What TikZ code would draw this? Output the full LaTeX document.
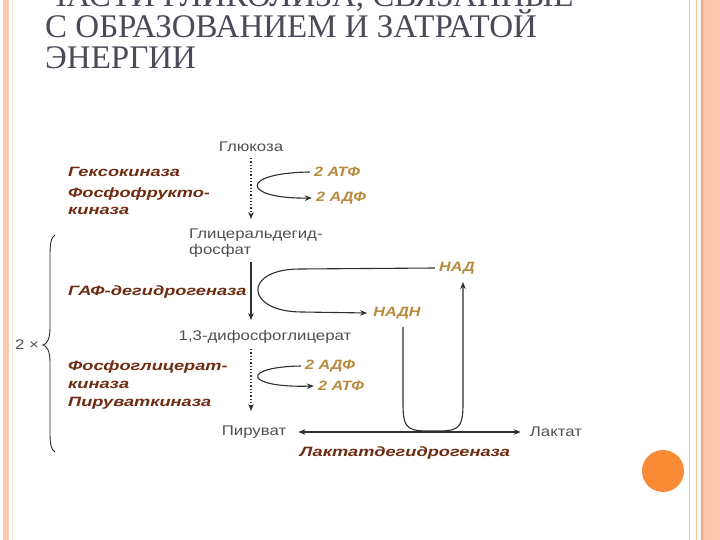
\documentclass[tikz,border=0pt]{standalone}
\usepackage{fontspec}
\usetikzlibrary{arrows.meta}
\setmainfont{Liberation Serif}
\newfontfamily\dsans[FakeStretch=1.2]{Liberation Sans}
\newfontfamily\esans[FakeStretch=1.35]{Liberation Sans}
\definecolor{titlec}{HTML}{4A4A58}
\definecolor{graytext}{HTML}{505050}
\definecolor{enzc}{HTML}{6E2C12}
\definecolor{cofc}{HTML}{B88A3E}
\definecolor{linec}{HTML}{2E2E2E}
\definecolor{salmon}{HTML}{FFC6B0}
\definecolor{salmonline}{HTML}{F5C3AC}
\definecolor{salmondark}{HTML}{F0A486}
\definecolor{paleline}{HTML}{FBE6CF}
\definecolor{dotc}{HTML}{F98B36}
\begin{document}
\begin{tikzpicture}[x=1pt,y=-1pt,
  lbl/.style={font=\dsans\fontsize{14}{16}\selectfont, text=graytext, inner sep=0pt, align=left},
  enz/.style={font=\esans\bfseries\itshape\fontsize{13.5}{17.5}\selectfont, text=enzc, inner sep=0pt, anchor=west, align=left},
  cof/.style={font=\dsans\bfseries\itshape\fontsize{13.5}{15}\selectfont, text=cofc, inner sep=0pt},
  ttl/.style={font=\fontsize{33}{36}\selectfont, text=titlec, inner sep=0pt, anchor=base west},
  arr/.style={draw=linec, line width=1.1pt, -{Stealth[length=7pt,width=5.5pt]}},
  darr/.style={draw=linec, line width=1.1pt, {Stealth[length=7pt,width=5.5pt]}-{Stealth[length=7pt,width=5.5pt]}},
  dotarr/.style={draw=linec, line width=1.3pt, dotted, -{Stealth[length=7pt,width=5.5pt]}},
  brace/.style={draw=linec, line width=0.9pt}]
\useasboundingbox (0,0) rectangle (720,540);
\fill[white] (0,0) rectangle (720,540);
% slide borders
\fill[salmon] (3,0) rectangle (9,540);
\draw[paleline, line width=1.2pt] (12.5,0) -- (12.5,540);
\draw[salmonline, line width=1.5pt] (689.5,0) -- (689.5,540);
\draw[salmonline, line width=1.5pt] (696.5,0) -- (696.5,540);
\fill[salmon] (702,0) rectangle (720,540);
\draw[salmondark, line width=1.2pt] (702,0) -- (702,540);
\fill[dotc] (663,471) circle (21);
% title
\node[ttl] (t1) at (45,7) {ЧАСТИ ГЛИКОЛИЗА, СВЯЗАННЫЕ};
\node[ttl] (t2) at (45,38) {С ОБРАЗОВАНИЕМ И ЗАТРАТОЙ};
\node[ttl] (t3) at (45,69) {ЭНЕРГИИ};
% metabolites
\node[lbl] (glc) at (251,147) {Глюкоза};
\node[lbl, anchor=north west] (g3p) at (189,229) {Глицеральдегид-\\фосфат};
\node[lbl] (dpg) at (265,337) {1,3-дифосфоглицерат};
\node[lbl] (pyr) at (254,432) {Пируват};
\node[lbl] (lac) at (556,432) {Лактат};
\node[lbl] (two) at (27,345) {2 ×};
% enzymes
\node[enz] (hk) at (68,172) {Гексокиназа};
\node[enz] (pfk) at (68,201) {Фосфофрукто-\\киназа};
\node[enz] (gapdh) at (68,292) {ГАФ-дегидрогеназа};
\node[enz] (pgk) at (68,374.5) {Фосфоглицерат-\\киназа};
\node[enz] (pk) at (68,403) {Пируваткиназа};
\node[enz, anchor=center] (ldh) at (405,453) {Лактатдегидрогеназа};
% cofactors
\node[cof] (atp1) at (337,172) {2 АТФ};
\node[cof] (adp1) at (341,198) {2 АДФ};
\node[cof] (nad) at (457,268) {НАД};
\node[cof] (nadh) at (397,313) {НАДН};
\node[cof] (adp2) at (330,366) {2 АДФ};
\node[cof] (atp2) at (341,386) {2 АТФ};
% main arrows
\draw[dotarr] (glc.south |- 0,158) -- (glc.south |- 0,219);
\draw[arr] (251,262) -- (251,320);
\draw[dotarr] (251,349) -- (251,411);
% cofactor curves
\draw[arr] ([xshift=-4pt]atp1.west) .. controls (238,173) and (242,199) .. ([xshift=-4pt]adp1.west);
\draw[arr] ([xshift=-4pt]nad.west) -- (300,269) .. controls (242,269) and (245,312) .. (302,312) -- ([xshift=-6pt]nadh.west);
\draw[arr] ([xshift=-4pt]adp2.west) .. controls (240,367) and (244,388) .. ([xshift=-4pt]atp2.west);
% LDH
\coordinate (nadin) at (463,282);
\draw[darr] ([xshift=12pt]pyr.east) -- ([xshift=-9pt]lac.west);
\draw[arr] ([xshift=6pt,yshift=-8pt]nadh.south) -- (403,405) .. controls (403,431) and (410,431) .. (433,431) .. controls (456,431) and (463,431) .. (463,405) -- (nadin);
% brace
\draw[brace] (55,235) .. controls (51,237) and (50,244) .. (50,256) -- (50,328) .. controls (50,339) and (47,344) .. (43,345) .. controls (47,346) and (50,351) .. (50,362) -- (50,432) .. controls (50,444) and (51,450) .. (55,452);
\end{tikzpicture}
\end{document}
